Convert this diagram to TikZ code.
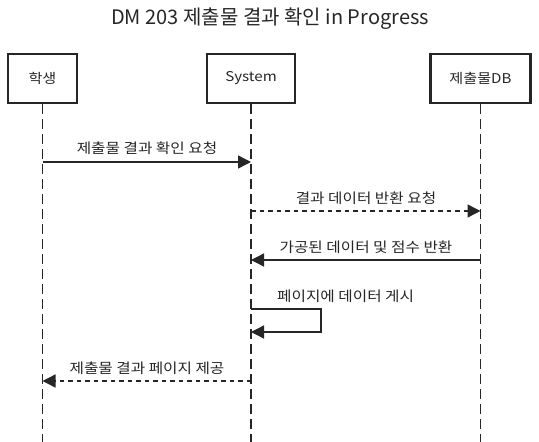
\documentclass[tikz,border=0pt]{standalone}
\usepackage{fontspec}
\setmainfont{Noto Sans CJK KR}
\newfontfamily\widefont{Noto Sans CJK KR}[FakeStretch=1.12]
\usetikzlibrary{arrows.meta}
\tikzset{
  actorbox/.style={draw=black!85, line width=2.6pt, minimum height=49pt, inner sep=0pt, font=\widefont\fontsize{13.5}{15}\selectfont, text=black!85},
  lifeline/.style={draw=black!85, line width=1.5pt, dash pattern=on 10pt off 5pt},
  msg/.style={draw=black!85, line width=1.4pt, -{Triangle[length=13pt,width=13pt]}},
  dmsg/.style={msg, dash pattern=on 4.5pt off 4pt},
  msglabel/.style={font=\widefont\fontsize{14}{16}\selectfont, text=black!85, inner sep=0pt},
  titletext/.style={font=\fontsize{20}{23}\selectfont, text=black!85, inner sep=0pt}
}
\begin{document}
\begin{tikzpicture}[x=1pt,y=-1pt]
\useasboundingbox (0,0) rectangle (539,442);
\node[titletext] (title) at (270,19) {DM 203 제출물 결과 확인 in Progress};
\node[actorbox, minimum width=69pt] (a) at (42.5,78.5) {학생};
\node[actorbox, minimum width=88pt] (s) at (251,78.5) {System};
\node[actorbox, minimum width=100pt] (d) at (480.5,78.5) {제출물DB};
\coordinate (bot) at (0,442);
\draw[lifeline] (a.south) -- (a.south |- bot);
\draw[lifeline] (s.south) -- (s.south |- bot);
\draw[lifeline] (d.south) -- (d.south |- bot);
% message 1
\coordinate (y1) at (0,162);
\draw[msg] (a |- y1) -- (s |- y1);
\node[msglabel] (l1) at (147,148) {제출물 결과 확인 요청};
% message 2
\coordinate (y2) at (0,211);
\draw[dmsg] (s |- y2) -- (d |- y2);
\node[msglabel] (l2) at (366,198) {결과 데이터 반환 요청};
% message 3
\coordinate (y3) at (0,260);
\draw[msg] (d |- y3) -- (s |- y3);
\node[msglabel] (l3) at (366,247) {가공된 데이터 및 점수 반환};
% self message
\coordinate (y4a) at (0,309);
\coordinate (y4b) at (0,332);
\coordinate (selfr) at (321,0);
\draw[msg] (s |- y4a) -- (selfr |- y4a) -- (selfr |- y4b) -- (s |- y4b);
\node[msglabel, anchor=west] (l4) at (277,296) {페이지에 데이터 게시};
% message 5
\coordinate (y5) at (0,381);
\draw[dmsg] (s |- y5) -- (a |- y5);
\node[msglabel] (l5) at (147,368) {제출물 결과 페이지 제공};
\end{tikzpicture}
\end{document}
